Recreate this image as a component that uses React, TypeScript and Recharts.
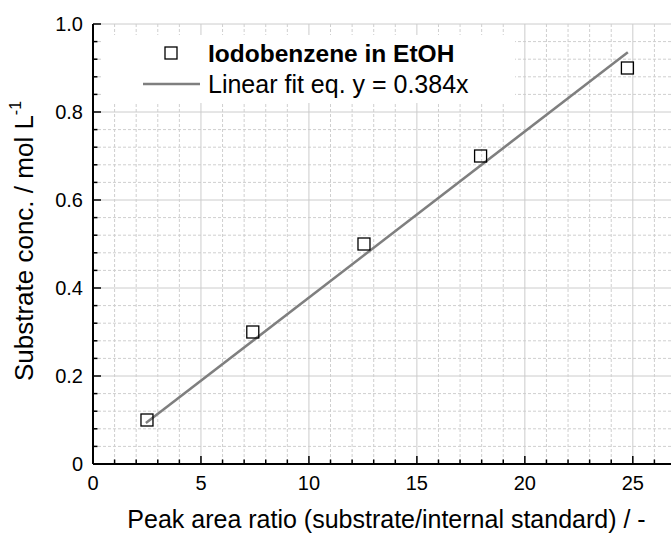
import React from 'react';
import { ScatterChart, Scatter, XAxis, YAxis, CartesianGrid, Legend, Label } from 'recharts';

// measured points
const ratio = [2.5, 7.4, 12.55, 17.95, 24.75];
const conc = [0.1, 0.3, 0.5, 0.7, 0.9];

// fitted line end points (y = 0.384x in the original units)
const fitRatio = [2.45, 24.77];
const fitConc = [0.093, 0.936];

const xTicks = [0, 1, 2, 3, 4, 5, 6, 7, 8, 9, 10, 11, 12, 13, 14, 15, 16, 17, 18, 19, 20, 21, 22, 23, 24, 25, 26, 27];
const xTickLabels = ['0', '5', '10', '15', '20', '25'];
const yTicks = [0, 0.04, 0.08, 0.12, 0.16, 0.2, 0.24, 0.28, 0.32, 0.36, 0.4, 0.44, 0.48, 0.52, 0.56, 0.6, 0.64, 0.68, 0.72, 0.76, 0.8, 0.84, 0.88, 0.92, 0.96, 1];
const yTickLabels = ['0', '0.2', '0.4', '0.6', '0.8', '1.0'];

const seriesName = 'Iodobenzene in EtOH';
const fitName = 'Linear fit eq. y = 0.384x';
const xTitle = 'Peak area ratio (substrate/internal standard) / -';
const yTitle = 'Substrate conc. / mol L';
const yTitleSup = '-1';

const FONT = '"Liberation Sans", Arial, sans-serif';

const points = ratio.map((x, i) => ({ x, y: conc[i] }));
const fitLine = fitRatio.map((x, i) => ({ x, y: fitConc[i] }));

const BottomTick = ({ x, y, index }: any) => {
    const major = index % 5 === 0;
    return (
        <g>
            <line x1={x} x2={x} y1={y} y2={y - (major ? 8 : 4.5)} stroke="#000" strokeWidth={1.5} />
            {major && (
                <text x={x} y={y + 26} textAnchor="middle" fontSize={20} fontFamily={FONT} fill="#000">
                    {xTickLabels[index / 5]}
                </text>
            )}
        </g>
    );
};

const TopTick = ({ x, y, index }: any) => {
    const major = index % 5 === 0;
    return <line x1={x} x2={x} y1={y} y2={y + (major ? 8 : 4.5)} stroke="#000" strokeWidth={1.5} />;
};

const LeftTick = ({ x, y, index }: any) => {
    const major = index % 5 === 0;
    return (
        <g>
            <line x1={x} x2={x + (major ? 8 : 4.5)} y1={y} y2={y} stroke="#000" strokeWidth={1.5} />
            {major && (
                <text x={x - 10} y={y + 7} textAnchor="end" fontSize={20} fontFamily={FONT} fill="#000">
                    {yTickLabels[index / 5]}
                </text>
            )}
        </g>
    );
};

const gridLine = (p: any) => {
    const major = p.index % 5 === 0;
    return (
        <line
            key={p.key}
            x1={p.x1}
            y1={p.y1}
            x2={p.x2}
            y2={p.y2}
            stroke={major ? '#cccccc' : '#cfcfcf'}
            strokeWidth={1}
            strokeDasharray={major ? undefined : '3 2'}
        />
    );
};

const Square = ({ cx, cy }: any) => (
    <rect x={cx - 6} y={cy - 6} width={12} height={12} fill="none" stroke="#000" strokeWidth={1.3} />
);

const XTitle = ({ viewBox }: any) => (
    <text x={viewBox.x + viewBox.width / 2 + 2} y={viewBox.y + 64} textAnchor="middle" fontSize={25} fontFamily={FONT} fill="#000">
        {xTitle}
    </text>
);

const YTitle = ({ viewBox }: any) => {
    const cx = 33;
    const cy = viewBox.y + viewBox.height / 2 - 3;
    return (
        <text x={cx} y={cy} transform={`rotate(-90, ${cx}, ${cy})`} textAnchor="middle" fontSize={26} fontFamily={FONT} fill="#000">
            {yTitle}
            <tspan fontSize={16} dy={-12}>{yTitleSup}</tspan>
        </text>
    );
};

const LegendBox = () => (
    <svg width={414} height={68} style={{ display: 'block' }}>
        <rect x={64} y={12} width={12} height={12} fill="none" stroke="#000" strokeWidth={1.3} />
        <text x={107} y={27} fontSize={24.5} fontWeight="bold" fontFamily={FONT} fill="#000">{seriesName}</text>
        <line x1={42} x2={99} y1={49} y2={49} stroke="#7f7f7f" strokeWidth={2.5} />
        <text x={107} y={58} fontSize={25} fontFamily={FONT} fill="#000">{fitName}</text>
    </svg>
);

export default function App() {
    return (
        <div style={{ position: 'absolute', left: 0, top: 0, width: 671, height: 534, background: '#fff' }}>
            <ScatterChart width={671} height={534} margin={{ top: 24, right: -5, bottom: 0, left: 0 }}>
                <CartesianGrid horizontal={gridLine} vertical={gridLine} />
                <XAxis
                    dataKey="x"
                    type="number"
                    domain={[0, 27]}
                    ticks={xTicks}
                    interval={0}
                    height={70}
                    tickSize={0}
                    tickMargin={0}
                    tick={<BottomTick />}
                    axisLine={{ stroke: '#000', strokeWidth: 2 }}
                >
                    <Label content={<XTitle />} />
                </XAxis>
                <XAxis
                    xAxisId="top"
                    orientation="top"
                    dataKey="x"
                    type="number"
                    domain={[0, 27]}
                    ticks={xTicks}
                    interval={0}
                    height={0}
                    tickSize={0}
                    tickMargin={0}
                    tick={<TopTick />}
                    axisLine={{ stroke: '#000', strokeWidth: 2 }}
                />
                <YAxis
                    dataKey="y"
                    type="number"
                    domain={[0, 1]}
                    ticks={yTicks}
                    interval={0}
                    width={93}
                    tickSize={0}
                    tickMargin={0}
                    tick={<LeftTick />}
                    axisLine={{ stroke: '#000', strokeWidth: 2 }}
                >
                    <Label content={<YTitle />} />
                </YAxis>
                <Legend
                    layout="horizontal"
                    verticalAlign="middle"
                    align="center"
                    content={<LegendBox />}
                    wrapperStyle={{ top: 35, left: 101, width: 414, height: 68, background: '#fff' }}
                />
                <Scatter
                    name={fitName}
                    data={fitLine}
                    line={{ stroke: '#7f7f7f', strokeWidth: 2.5 }}
                    shape={() => <g />}
                    legendType="line"
                    isAnimationActive={false}
                />
                <Scatter name={seriesName} data={points} shape={<Square />} legendType="square" isAnimationActive={false} />
            </ScatterChart>
        </div>
    );
}
